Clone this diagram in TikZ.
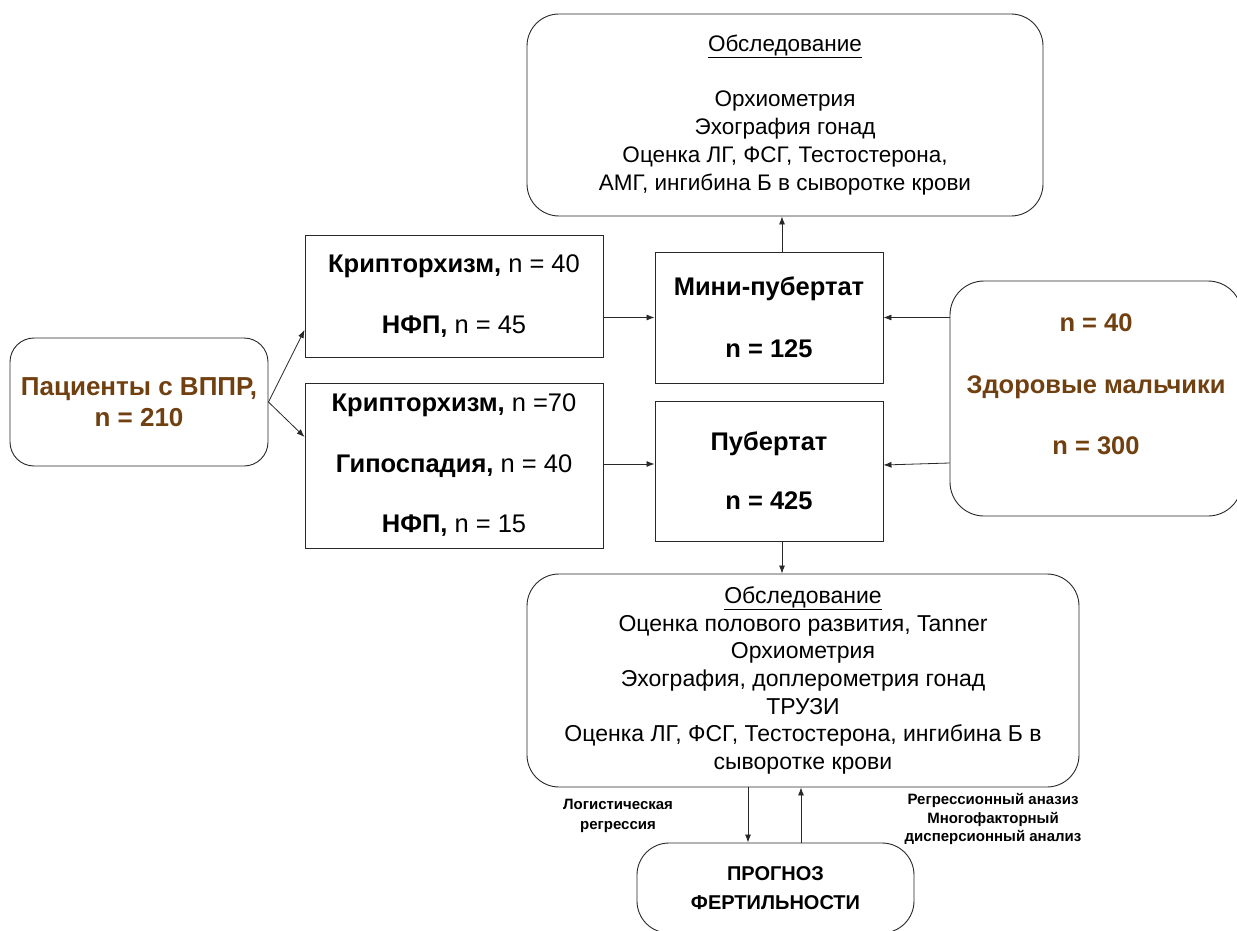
\documentclass[tikz,border=0pt]{standalone}
\usepackage{fontspec}
\setmainfont{Liberation Sans}
\usetikzlibrary{arrows.meta}
\definecolor{brn}{RGB}{112,64,16}
\definecolor{lin}{RGB}{40,40,40}
\begin{document}
\begin{tikzpicture}[x=1pt,y=-1pt,
  box/.style={draw=lin,line width=0.9pt,align=center,inner sep=0pt},
  rbox/.style={box,rounded corners=32pt},
  arr/.style={-{Latex[length=8pt,width=6pt]},line width=0.8pt,draw=lin},
  lbl/.style={align=center,inner sep=0pt,font=\fontsize{15}{20}\selectfont\bfseries}]
\useasboundingbox (0,0) rectangle (1237,931);
\fill[white] (0,0) rectangle (1237,931);

% top examination
\node[rbox,minimum width=516pt,minimum height=202pt,font=\fontsize{22.5}{28}\selectfont] (exam1) at (785,115)
 {\underline{Обследование}\\[27pt]Орхиометрия\\Эхография гонад\\Оценка ЛГ, ФСГ, Тестостерона,\\АМГ, ингибина Б в сыворотке крови};

% patients
\node[rbox,rounded corners=24pt,minimum width=258pt,minimum height=128pt,text=brn,font=\fontsize{26}{31}\selectfont\bfseries] (pat) at (139,402)
 {Пациенты с ВППР,\\n = 210};

% groups
\node[box,minimum width=298pt,minimum height=122pt,font=\fontsize{25.5}{30}\selectfont] (k1) at (454,296)
 {\textbf{Крипторхизм,} n = 40\\[31pt]\textbf{НФП,} n = 45};
\node[box,minimum width=298pt,minimum height=165pt,font=\fontsize{25.5}{30}\selectfont] (k2) at (454,465.5)
 {\textbf{Крипторхизм,} n =70\\[30.5pt]\textbf{Гипоспадия,} n = 40\\[30.5pt]\textbf{НФП,} n = 15};

% periods
\node[box,minimum width=228pt,minimum height=131pt,font=\fontsize{25.5}{30}\selectfont\bfseries] (mini) at (769,317.5)
 {Мини-пубертат\\[32pt]n = 125};
\node[box,minimum width=228pt,minimum height=140pt,font=\fontsize{25.5}{30}\selectfont\bfseries] (pub) at (769,471)
 {Пубертат\\[29pt]n = 425};

% healthy
\node[rbox,rounded corners=34pt,minimum width=292pt,minimum height=235pt] (hbox) at (1096,398.5) {};
\node[align=center,inner sep=0pt,text=brn,font=\fontsize{25.5}{30}\selectfont\bfseries] (htxt) at (1096,384.5)
 {n = 40\\[31.5pt]Здоровые мальчики\\[31.5pt]n = 300};

% bottom examination
\node[rbox,minimum width=552pt,minimum height=213pt,font=\fontsize{23}{27.7}\selectfont] (exam2) at (803,680.5)
 {\underline{Обследование}\\Оценка полового развития, Tanner\\Орхиометрия\\Эхография, доплерометрия гонад\\ТРУЗИ\\Оценка ЛГ, ФСГ, Тестостерона, ингибина Б в\\сыворотке крови};

% prognosis
\node[rbox,minimum width=277pt,minimum height=90pt,font=\fontsize{20}{29}\selectfont\bfseries] (prog) at (775.5,888)
 {ПРОГНОЗ\\ФЕРТИЛЬНОСТИ};

% labels
\node[lbl] (l1) at (618,816) {Логистическая\\регрессия};
\node[lbl,font=\fontsize{15}{18.5}\selectfont\bfseries] (l2) at (993,819) {Регрессионный аназиз\\Многофакторный\\дисперсионный анализ};

% helper coordinates
\coordinate (ya) at (0,330);
\coordinate (yb) at (0,437);
\coordinate (yc) at (0,464);
\coordinate (yd) at (0,463);
\coordinate (ye) at (0,465);
\coordinate (xa) at (782,0);
\coordinate (xb) at (748,0);
\coordinate (xc) at (801,0);

% connectors
\draw[arr] (pat.east) -- (k1.west |- ya);
\draw[arr] (pat.east) -- (k2.west |- yb);
\draw[arr] (k1.east |- mini.west) -- (mini.west);
\draw[arr] (k2.east |- yc) -- (mini.west |- yc);
\draw[arr] (hbox.west |- mini.east) -- (mini.east);
\draw[arr] (hbox.west |- yd) -- (pub.east |- ye);
\draw[arr] (xa |- mini.north) -- (xa |- exam1.south);
\draw[arr] (xa |- pub.south) -- (xa |- exam2.north);
\draw[arr] (xb |- exam2.south) -- (xb |- prog.north);
\draw[arr] (xc |- prog.north) -- (xc |- exam2.south);
\end{tikzpicture}
\end{document}
